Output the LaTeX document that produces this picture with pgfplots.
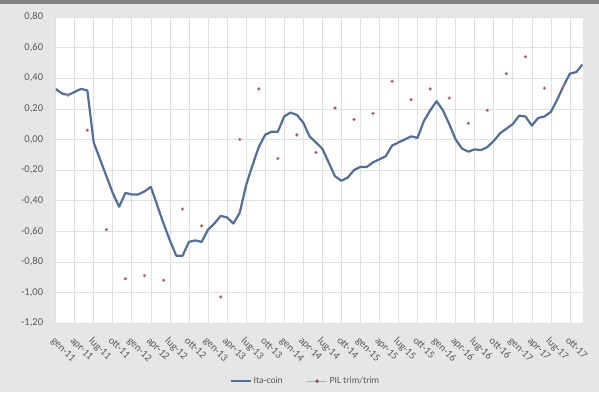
\documentclass[border=0pt]{standalone}
\usepackage{pgfplots}
\pgfplotsset{compat=1.18}
\usepackage{fontspec}
\setmainfont{Carlito}
\definecolor{bg}{RGB}{230,230,230}
\definecolor{topbar}{RGB}{128,128,128}
\definecolor{itablue}{RGB}{84,110,152}
\definecolor{pilpink}{RGB}{232,150,170}
\definecolor{pilmark}{RGB}{125,85,100}
\definecolor{txt}{RGB}{89,89,89}
\definecolor{gridc}{RGB}{224,224,224}
\begin{document}
\begin{tikzpicture}
\useasboundingbox (0,0) rectangle (599pt,392pt);
\fill[bg] (0,0) rectangle (599pt,392pt);
\fill[topbar] (0,388pt) rectangle (599pt,392pt);
\begin{axis}[
  at={(55.6pt,69pt)}, anchor=south west, scale only axis,
  width=527pt, height=306pt,
  xmin=0, xmax=83, ymin=-1.2, ymax=0.8,
  axis background/.style={fill=white},
  axis line style={draw=none},
  tick style={draw=none},
  grid=major, grid style={gridc, line width=0.6pt},
  ytick={-1.2,-1.0,-0.8,-0.6,-0.4,-0.2,0,0.2,0.4,0.6,0.8},
  yticklabels={{-1,20},{-1,00},{-0,80},{-0,60},{-0,40},{-0,20},{0,00},{0,20},{0,40},{0,60},{0,80}},
  xtick={0,3,...,81},
  xticklabels={gen-11,apr-11,lug-11,ott-11,gen-12,apr-12,lug-12,ott-12,gen-13,apr-13,lug-13,ott-13,gen-14,apr-14,lug-14,ott-14,gen-15,apr-15,lug-15,ott-15,gen-16,apr-16,lug-16,ott-16,gen-17,apr-17,lug-17,ott-17},
  xticklabel shift=13pt,
  xticklabel style={rotate=-45, anchor=north west, font=\fontsize{10.5}{12}\selectfont, text=txt, inner sep=0pt},
  yticklabel style={font=\fontsize{10.5}{12}\selectfont, text=txt, xshift=-9pt},
  legend style={at={(0.474,-0.19)}, anchor=center, draw=none, fill=none,
    legend columns=2, font=\fontsize{9.5}{11}\selectfont, text=txt,
    /tikz/every even column/.append style={column sep=22pt}},
]
\addplot[itablue, line width=2.2pt, line join=round,
  legend image code/.code={\draw[itablue, line width=2.2pt] (0pt,0pt) -- (20pt,0pt);}] coordinates {
(0,0.33) (1,0.30) (2,0.29) (3,0.31) (4,0.33) (5,0.32) (6,-0.02) (7,-0.13) (8,-0.24) (9,-0.35)
(10,-0.44) (11,-0.35) (12,-0.36) (13,-0.36) (14,-0.34) (15,-0.31) (16,-0.43) (17,-0.55) (18,-0.66) (19,-0.76)
(20,-0.76) (21,-0.67) (22,-0.66) (23,-0.67) (24,-0.59) (25,-0.55) (26,-0.50) (27,-0.51) (28,-0.55) (29,-0.48)
(30,-0.30) (31,-0.17) (32,-0.05) (33,0.03) (34,0.05) (35,0.05) (36,0.15) (37,0.175) (38,0.16) (39,0.11)
(40,0.02) (41,-0.02) (42,-0.06) (43,-0.15) (44,-0.24) (45,-0.27) (46,-0.25) (47,-0.20) (48,-0.18) (49,-0.18)
(50,-0.15) (51,-0.13) (52,-0.11) (53,-0.04) (54,-0.02) (55,0.00) (56,0.02) (57,0.01) (58,0.12) (59,0.19)
(60,0.25) (61,0.19) (62,0.10) (63,0.00) (64,-0.06) (65,-0.08) (66,-0.065) (67,-0.07) (68,-0.05) (69,-0.01)
(70,0.04) (71,0.07) (72,0.10) (73,0.155) (74,0.15) (75,0.09) (76,0.14) (77,0.15) (78,0.18) (79,0.26)
(80,0.35) (81,0.43) (82,0.44) (83,0.49)
};
\addlegendentry{Ita-coin}
\addplot[only marks, mark=*, mark size=1.6pt, mark options={fill=pilmark, draw=pilpink, line width=0.4pt},
  legend image code/.code={
    \draw[pilpink, line width=1pt] (0pt,0pt) -- (20pt,0pt);
    \fill[pilmark] (10pt,0pt) circle (1.6pt);}] coordinates {
(2,0.29) (5,0.06) (8,-0.59) (11,-0.91) (14,-0.89) (17,-0.92) (20,-0.455) (23,-0.565) (26,-1.03)
(29,0.00) (32,0.33) (35,-0.125) (38,0.03) (41,-0.085) (44,0.205) (47,0.13) (50,0.17) (53,0.38)
(56,0.26) (59,0.33) (62,0.27) (65,0.105) (68,0.19) (71,0.43) (74,0.54) (77,0.335) (80,0.35)
};
\addlegendentry{PIL trim/trim}
\end{axis}
\end{tikzpicture}
\end{document}
